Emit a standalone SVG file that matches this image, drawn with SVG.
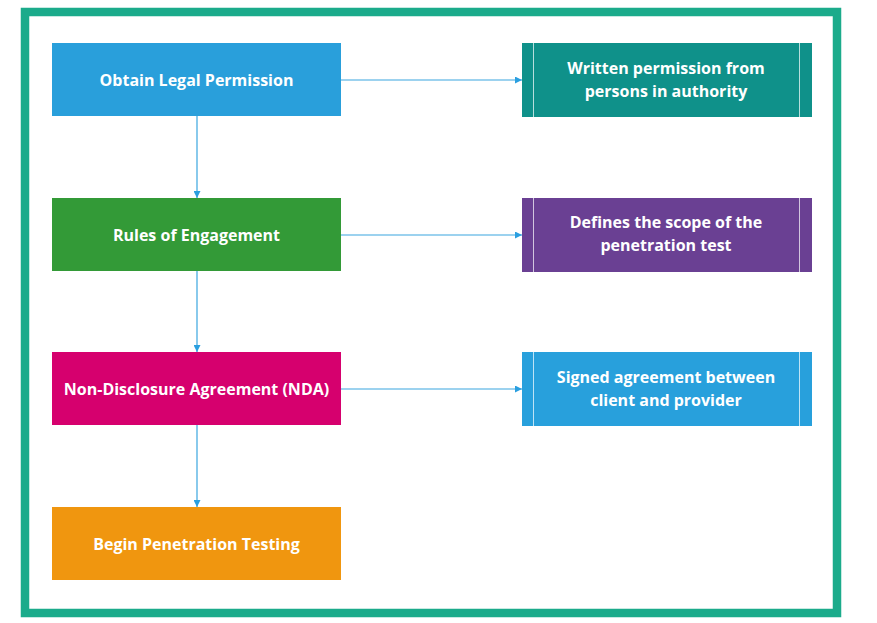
<svg xmlns="http://www.w3.org/2000/svg" width="877" height="623" viewBox="0 0 877 623">
<defs>
<style>
.box{stroke:none}
.lbl{font-family:"Open Sans","Liberation Sans",sans-serif;font-weight:700;font-size:16px;fill:#ffffff;text-anchor:middle}
.inner{stroke:#ffffff;stroke-opacity:0.7;stroke-width:1}
.conn{stroke:#3aa6e0;stroke-width:1.2;fill:none;marker-end:url(#arr)}
</style>
<marker id="arr" viewBox="0 0 10 10" refX="10" refY="5" markerWidth="7" markerHeight="7" markerUnits="userSpaceOnUse" orient="auto">
<path d="M0,0 L10,5 L0,10 z" fill="#2a9fe0"/>
</marker>
</defs>
<rect x="0" y="0" width="877" height="623" fill="#ffffff"/>
<rect id="frame" x="25" y="12" width="812" height="601" fill="#ffffff" stroke="#1bab8b" stroke-width="8.5"/>
<g id="connectors">
<line class="conn" x1="341" y1="80" x2="522" y2="80"/>
<line class="conn" x1="341" y1="235" x2="522" y2="235"/>
<line class="conn" x1="341" y1="389" x2="522" y2="389"/>
<line class="conn" x1="197" y1="116" x2="197" y2="198"/>
<line class="conn" x1="197" y1="271" x2="197" y2="352"/>
<line class="conn" x1="197" y1="425" x2="197" y2="507"/>
</g>
<g id="obtain">
<rect class="box" x="52" y="43" width="289" height="73" fill="#299fdb"/>
<text class="lbl" x="196.5" y="85.5">Obtain Legal Permission</text>
</g>
<g id="rules">
<rect class="box" x="52" y="198" width="289" height="73" fill="#339a37"/>
<text class="lbl" x="196.5" y="240.5">Rules of Engagement</text>
</g>
<g id="nda">
<rect class="box" x="52" y="352" width="289" height="73" fill="#d6006e"/>
<text class="lbl" x="196.5" y="394.5">Non-Disclosure Agreement (NDA)</text>
</g>
<g id="begin">
<rect class="box" x="52" y="507" width="289" height="73" fill="#f0960f"/>
<text class="lbl" x="196.5" y="549.5">Begin Penetration Testing</text>
</g>
<g id="written">
<rect class="box" x="522" y="43" width="290" height="74" fill="#0f918a"/>
<line class="inner" x1="533.5" y1="43" x2="533.5" y2="117"/>
<line class="inner" x1="799.5" y1="43" x2="799.5" y2="117"/>
<text class="lbl" x="666" y="74">Written permission from</text>
<text class="lbl" x="666" y="97">persons in authority</text>
</g>
<g id="defines">
<rect class="box" x="522" y="198" width="290" height="74" fill="#6a4093"/>
<line class="inner" x1="533.5" y1="198" x2="533.5" y2="272"/>
<line class="inner" x1="799.5" y1="198" x2="799.5" y2="272"/>
<text class="lbl" x="666" y="228">Defines the scope of the</text>
<text class="lbl" x="666" y="251">penetration test</text>
</g>
<g id="signed">
<rect class="box" x="522" y="352" width="290" height="74" fill="#28a0dc"/>
<line class="inner" x1="533.5" y1="352" x2="533.5" y2="426"/>
<line class="inner" x1="799.5" y1="352" x2="799.5" y2="426"/>
<text class="lbl" x="666" y="383">Signed agreement between</text>
<text class="lbl" x="666" y="406">client and provider</text>
</g>
</svg>
